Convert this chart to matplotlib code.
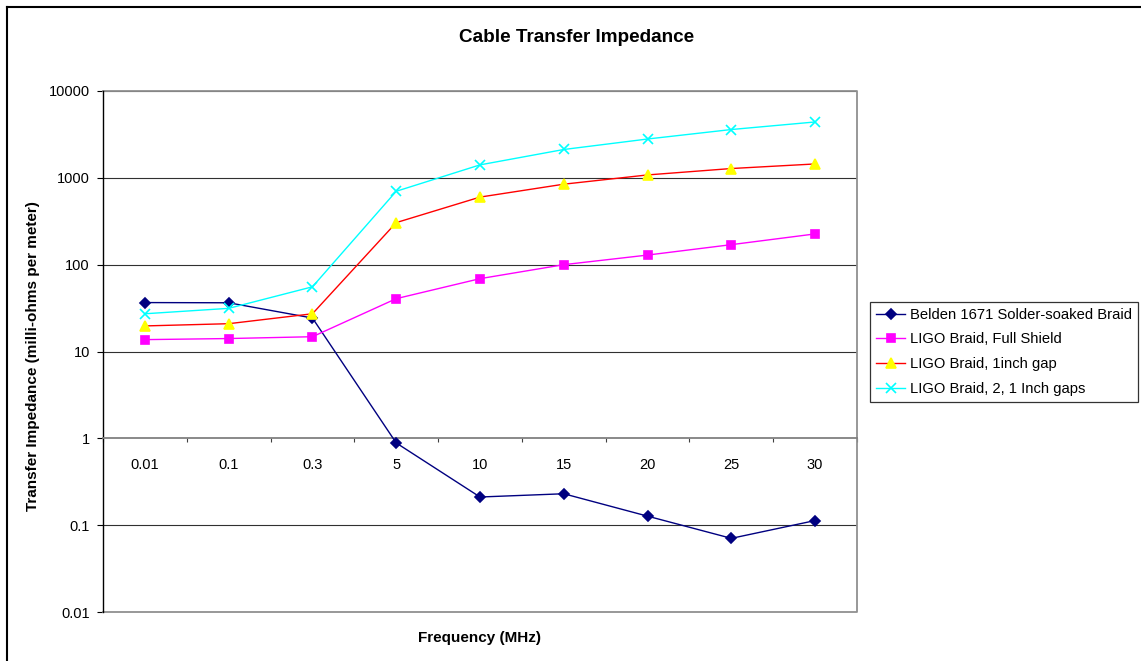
import numpy as np
import matplotlib
matplotlib.use('Agg')
import matplotlib.pyplot as plt
from matplotlib.lines import Line2D

plt.rcParams['font.family'] = ['Liberation Sans', 'DejaVu Sans']

freqs = ['0.01', '0.1', '0.3', '5', '10', '15', '20', '25', '30']

belden = [36.6, 36.4, 24.3, 0.885, 0.211, 0.23, 0.127, 0.0705, 0.113]
full_shield = [13.7, 14.1, 14.8, 40.6, 69, 100, 129, 170, 226]
one_gap = [19.7, 20.9, 27.2, 305, 600, 845, 1080, 1280, 1445]
two_gaps = [27.2, 31.4, 55.6, 700, 1410, 2120, 2800, 3600, 4400]

series = [
    ('Belden 1671 Solder-soaked Braid', belden, '#000080', 'D', '#000080', 5),
    ('LIGO Braid, Full Shield', full_shield, '#FF00FF', 's', '#FF00FF', 5.5),
    ('LIGO Braid, 1inch gap', one_gap, '#FF0000', '^', '#FFFF00', 6.5),
    ('LIGO Braid, 2, 1 Inch gaps', two_gaps, '#00FFFF', 'x', '#00FFFF', 6.5),
]

fig = plt.figure(figsize=(11.41, 6.61), dpi=100)
ax = fig.add_axes([103 / 1141, 49 / 661, 754 / 1141, 521 / 661])

x = np.arange(len(freqs))
for name, vals, col, mk, mcol, ms in series:
    ax.plot(x, vals, color=col, lw=1.0, marker=mk, markersize=ms,
            markerfacecolor=mcol, markeredgecolor=mcol, mew=1.2, label=name,
            zorder=3)

ax.set_yscale('log')
ax.set_ylim(0.01, 10000)
ax.set_xlim(-0.5, len(freqs) - 0.5)

yt = [0.01, 0.1, 1, 10, 100, 1000, 10000]
ax.yaxis.set_major_locator(matplotlib.ticker.FixedLocator(yt))
ax.yaxis.set_major_formatter(matplotlib.ticker.FixedFormatter(['0.01', '0.1', '1', '10', '100', '1000', '10000']))
ax.yaxis.set_minor_locator(matplotlib.ticker.NullLocator())
ax.tick_params(axis='y', direction='out', length=4.5, width=0.8, pad=5,
               labelsize=10.5, color='black')

for v in [0.1, 10, 100, 1000, 10000]:
    ax.axhline(v, color='#303030', lw=0.8, zorder=1)

for s in ['top', 'right']:
    ax.spines[s].set_visible(False)
ax.spines['left'].set_color('black')
ax.spines['left'].set_linewidth(1.0)
ax.spines['bottom'].set_position(('data', 1))
ax.spines['bottom'].set_color('#808080')
ax.spines['bottom'].set_linewidth(1.3)

# plot area border (top, right, bottom) in gray
ax.plot([0, 1, 1, 0], [1, 1, 0, 0], transform=ax.transAxes, color='#909090',
        lw=1.3, clip_on=False, zorder=2)

ax.set_xticks(np.arange(-0.5, len(freqs)))
ax.set_xticklabels([])
ax.set_xticks(x, freqs, minor=True)
ax.tick_params(axis='x', which='major', direction='out', length=3,
               width=0.8, color='#404040')
ax.tick_params(axis='x', which='minor', length=0, pad=14, labelsize=10.5)

fig.text(577 / 1141, 1 - 37 / 661, 'Cable Transfer Impedance', ha='center',
         va='center', fontsize=13.6, fontweight='bold')
fig.text(480 / 1141, 1 - 638 / 661, 'Frequency (MHz)', ha='center',
         va='center', fontsize=11, fontweight='bold')
fig.text(33 / 1141, 1 - 356 / 661, 'Transfer Impedance (milli-ohms per meter)',
         ha='center', va='center', rotation=90, fontsize=11, fontweight='bold')

leg = fig.legend(loc='upper left', bbox_to_anchor=(870 / 1141, 1 - 302 / 661),
                 fontsize=10.6, frameon=True, fancybox=False, borderpad=0.4,
                 labelspacing=0.72, handlelength=2.0, handletextpad=0.3,
                 borderaxespad=0)
leg.get_frame().set_edgecolor('black')
leg.get_frame().set_linewidth(0.9)

# outer chart frame (cropped: only top and left edges visible)
fig.add_artist(Line2D([7 / 1141, 7 / 1141], [0, 1 - 6.5 / 661], color='black', lw=1.5))
fig.add_artist(Line2D([7 / 1141, 1], [1 - 6.5 / 661, 1 - 6.5 / 661], color='black', lw=1.5))

fig.savefig('out.png', dpi=100)
